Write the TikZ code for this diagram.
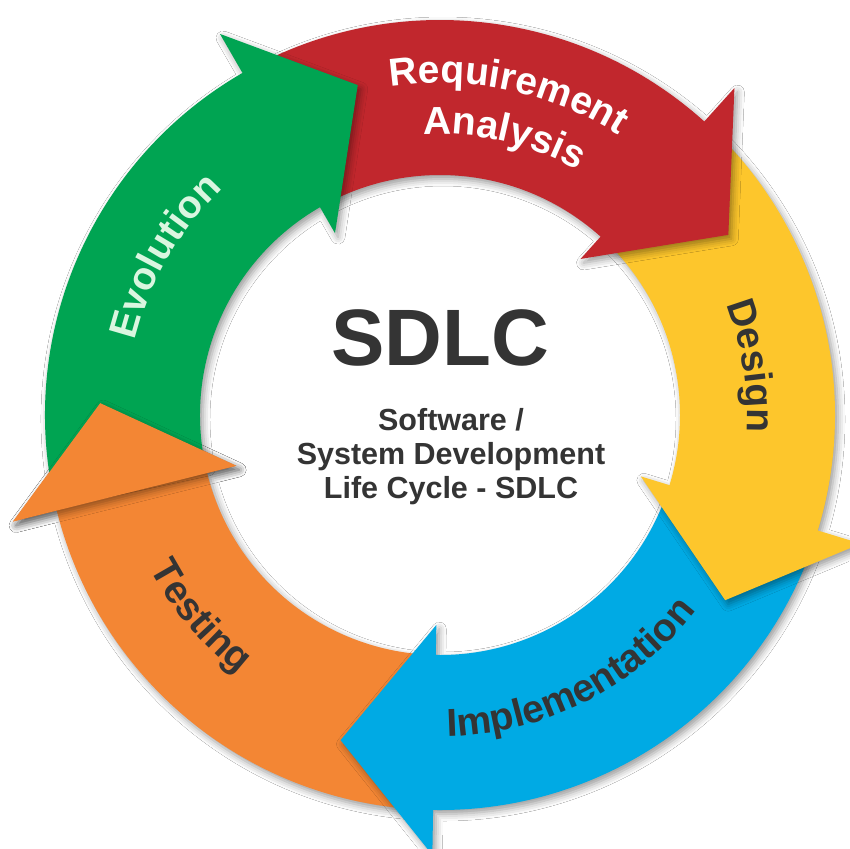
\documentclass[tikz,border=0pt]{standalone}
\usepackage{fontspec}
\setmainfont{Liberation Sans}
\usetikzlibrary{decorations.text,shadows.blur}

\definecolor{reqred}{RGB}{193,39,45}
\definecolor{desyellow}{RGB}{253,198,44}
\definecolor{impblue}{RGB}{0,170,228}
\definecolor{tstorange}{RGB}{243,134,52}
\definecolor{evogreen}{RGB}{0,164,82}
\definecolor{inkgray}{RGB}{52,52,52}
\definecolor{mintwhite}{RGB}{218,246,224}

\newcommand\arcfont{\fontsize{39}{46}\selectfont\bfseries}

\tikzset{
  arrowshadow/.style={blur shadow={shadow xshift=3pt,shadow yshift=-4pt,shadow blur radius=7pt}},
  arclabel/.style={decorate,decoration={text along path,text align=center,text color=#1}}
}

% one ring arrow: colour, tail angle, angle of the head base
\newcommand\ringarrow[3]{%
  \fill[#1,arrowshadow] (#2:395) arc[start angle=#2,end angle=#3,radius=395]
    -- (#3:440) -- ({#3-16}:340) -- (#3:210) -- (#3:240)
    arc[start angle=#3,end angle=#2,radius=240] -- cycle;}

\begin{document}
\begin{tikzpicture}[x=1pt,y=1pt]
  \useasboundingbox[fill=white] (0,0) rectangle (849,-849);

  \begin{scope}[shift={(440,-415)}]
    % ring of arrows, clockwise
    \ringarrow{tstorange}{-93}{-166}
    \ringarrow{impblue}{-19}{-91}
    \ringarrow{desyellow}{46}{-17}
    \ringarrow{reqred}{118}{48}
    \ringarrow{evogreen}{192}{120}
    % orange head again, on top of the green tail
    \fill[tstorange,arrowshadow] (-166:440) -- (-182:340) -- (-166:210) -- cycle;

    % labels along the ring
    \path[arclabel=white,decoration={text={|\arcfont|Requirement}}]
      (108:332) arc[start angle=108,end angle=48,radius=332];
    \path[arclabel=white,decoration={text={|\arcfont|Analysis}}]
      (107:281) arc[start angle=107,end angle=47,radius=281];
    \path[arclabel=inkgray,decoration={text={|\arcfont|Design}}]
      (40:307) arc[start angle=40,end angle=-22,radius=307];
    \path[arclabel=inkgray,decoration={text={|\arcfont|Implementation}}]
      (-103:322) arc[start angle=-103,end angle=-23,radius=322];
    \path[arclabel=inkgray,decoration={text={|\arcfont|Testing}}]
      (-170:328) arc[start angle=-170,end angle=-110,radius=328];
    \path[arclabel=mintwhite,decoration={text={|\arcfont|Evolution}}]
      (180:314) arc[start angle=180,end angle=120,radius=314];

    % centre
    \node[text=inkgray,font=\fontsize{80}{80}\selectfont\bfseries] (title) at (0,77) {SDLC};
    \node[text=inkgray,font=\fontsize{30.5}{34}\selectfont\bfseries,align=center] (subtitle) at (11,-42)
      {Software /\\System Development\\Life Cycle - SDLC};
  \end{scope}
\end{tikzpicture}
\end{document}
